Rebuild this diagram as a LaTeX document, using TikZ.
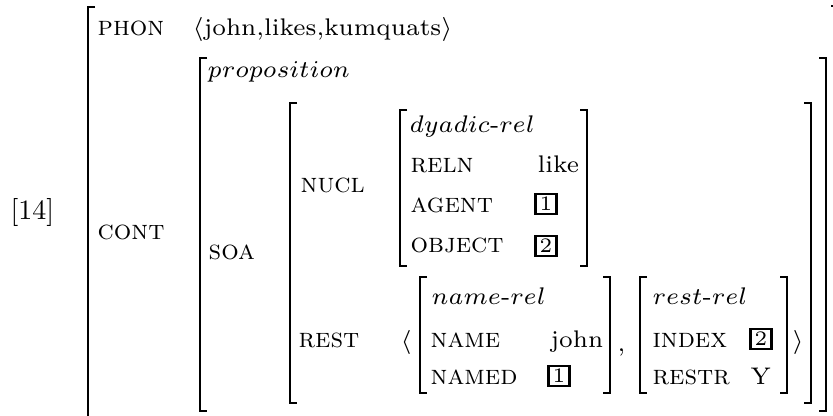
\documentclass[tikz,border=0pt]{standalone}
\usepackage{amsmath}
% left and right square brackets of an attribute-value matrix:
% #1 = x of the vertical stroke, #2 = top, #3 = bottom
\newcommand{\avmL}[3]{\draw[brk] (#1+7,#2) -- (#1,#2) -- (#1,#3) -- (#1+7,#3);}
\newcommand{\avmR}[3]{\draw[brk] (#1-7,#2) -- (#1,#2) -- (#1,#3) -- (#1-7,#3);}
\begin{document}
\begin{tikzpicture}[x=0.291pt,y=-0.291pt,
  brk/.style={line width=0.8pt, line cap=butt, line join=miter},
  val/.style={anchor=base west, inner sep=0pt, font=\fontsize{7}{8.5}\selectfont},
  lbl/.style={val, font=\fontsize{8}{9.5}\selectfont\scshape},
  tag/.style={draw, line width=0.6pt, inner sep=0pt, minimum width=6.1pt,
    minimum height=5.6pt, font=\fontsize{6}{7}\selectfont}]
\clip (0,0) rectangle (833,416);

% brackets, outermost first
\avmL{88}{7}{440}   \avmR{838}{6}{440}
\avmL{200}{58}{411} \avmR{826}{58}{411}
\avmL{290}{103}{403} \avmR{811}{103}{403}
\avmL{400}{110}{266} \avmR{587}{110}{266}
\avmL{420}{277}{393} \avmR{610}{277}{393}
\avmL{640}{277}{393} \avmR{787}{277}{393}

% example number
\node[anchor=base west, inner sep=0pt] (ex) at (10,220)
  {\scalebox{0.815}{\fontsize{10}{12}\selectfont[14]}};

% top level
\node[lbl] (phon) at (97,36) {phon};
\node[val] (phonval) at (192,36) {$\langle$john,likes,kumquats$\rangle$};
\node[lbl] (cont) at (97,240) {cont};

% content
\node[val] (prop) at (207,78) {$proposition$};
\node[lbl] (soa) at (208,260) {soa};

% nucleus
\node[lbl] (nucl) at (300,193) {nucl};
\node[val] (dyad) at (409,133) {$dyadic\mbox{-}rel$};
\node[lbl] (reln) at (410,173) {reln};
\node[val] (like) at (537,173) {like};
\node[lbl] (agent) at (410,213) {agent};
\node[tag] (agenttag) at (546,204) {1};
\node[lbl] (object) at (410,253) {object};
\node[tag] (objecttag) at (546,246) {2};

% restrictions
\node[lbl] (rest) at (298,348) {rest};
\node[val] (open) at (400,349) {$\langle$};
\node[val] (namerel) at (431,305) {$name\mbox{-}rel$};
\node[lbl] (name) at (430,348) {name};
\node[val] (john) at (550,348) {john};
\node[lbl] (named) at (430,385) {named};
\node[tag] (namedtag) at (559,376) {1};
\node[val] (comma) at (617,352) {,};
\node[val] (restrel) at (652,305) {$rest\mbox{-}rel$};
\node[lbl] (index) at (652,348) {index};
\node[tag] (indextag) at (761,339) {2};
\node[lbl] (restr) at (652,385) {restr};
\node[val] (why) at (750,385) {Y};
\node[val] (close) at (792,349) {$\rangle$};
\end{tikzpicture}
\end{document}
